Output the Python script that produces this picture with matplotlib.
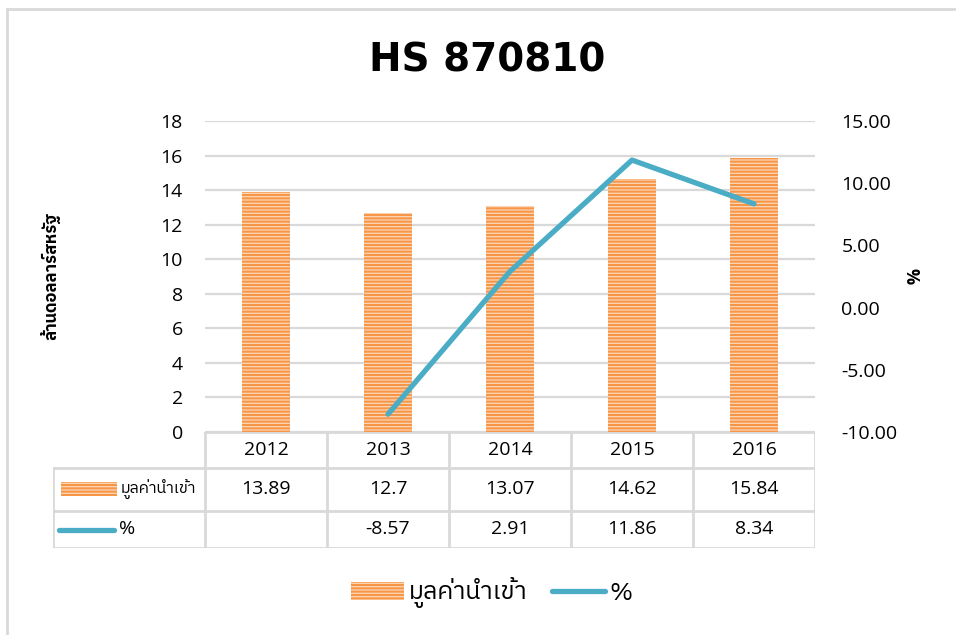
import matplotlib
matplotlib.use("Agg")
import matplotlib.pyplot as plt
import matplotlib.font_manager as fm
from matplotlib import ft2font
from matplotlib.patches import Rectangle, Patch
from matplotlib.lines import Line2D

years = ["2012", "2013", "2014", "2015", "2016"]
import_value = [13.89, 12.70, 13.07, 14.62, 15.84]
pct_change = [None, -8.57, 2.91, 11.86, 8.34]
value_labels = ["13.89", "12.7", "13.07", "14.62", "15.84"]
pct_labels = ["", "-8.57", "2.91", "11.86", "8.34"]

ORANGE = "#F79646"
PEACH = "#FBD6B8"
BLUE = "#4BACC6"
GRID = "#D9D9D9"


def find_thai_font():
    names = []
    for f in fm.fontManager.ttflist:
        try:
            if 0x0E21 in ft2font.FT2Font(f.fname).get_charmap():
                names.append(f.name)
        except Exception:
            pass
    for n in names:
        if "Thai" in n and "Looped" not in n:
            return n
    return names[0] if names else "DejaVu Sans"


thai = find_thai_font()
FAM = ["Open Sans", "DejaVu Sans"]
TFAM = [thai, "Open Sans", "DejaVu Sans"]
plt.rcParams["font.family"] = FAM
plt.rcParams["hatch.linewidth"] = 1.5
plt.rcParams["hatch.color"] = ORANGE

W, H = 956, 635
fig = plt.figure(figsize=(W / 100, H / 100), dpi=100)


def px_box(x0, y0, x1, y1):
    return [x0 / W, 1 - y1 / H, (x1 - x0) / W, (y1 - y0) / H]


# chart border (right/bottom edges run off the picture)
fig.add_artist(Line2D([7 / W, 7 / W], [0, 1 - 9 / H], transform=fig.transFigure,
                      color=GRID, lw=2))
fig.add_artist(Line2D([7 / W, 1], [1 - 9 / H, 1 - 9 / H], transform=fig.transFigure,
                      color=GRID, lw=2))

fig.text(487 / W, 1 - 61 / H, "HS 870810", ha="center", va="center",
         fontsize=28, fontweight="bold", family=["DejaVu Sans"])

PL, PT, PR, PB = 205, 121, 815, 432
ax = fig.add_axes(px_box(PL, PT, PR, PB))
x = list(range(len(years)))
ax.bar(x, import_value, width=0.4, color=PEACH, hatch="-----", edgecolor=ORANGE,
       linewidth=0, zorder=2)
ax.set_xlim(-0.5, len(years) - 0.5)
ax.set_ylim(0, 18)
ax.set_yticks(range(0, 19, 2))
ax.grid(axis="y", color=GRID, lw=1.6, zorder=0)
ax.set_xticks([])
for s in ["top", "right", "left", "bottom"]:
    ax.spines[s].set_visible(False)
ax.tick_params(axis="y", length=0, labelsize=14, pad=16)
ax.set_ylabel("ล้านดอลลาร์สหรัฐ", family=TFAM, fontsize=12, fontweight="bold",
              labelpad=72)

ax2 = ax.twinx()
xs = [i for i, v in zip(x, pct_change) if v is not None]
ys = [v for v in pct_change if v is not None]
ax2.plot(xs, ys, color=BLUE, lw=3.8, solid_capstyle="round", solid_joinstyle="round", zorder=3)
ax2.set_ylim(-10, 15)
ax2.set_yticks(range(-10, 16, 5))
ax2.set_yticklabels([f"{v:.2f}" for v in range(-10, 16, 5)])
for s in ["top", "right", "left", "bottom"]:
    ax2.spines[s].set_visible(False)
ax2.tick_params(axis="y", length=0, labelsize=14, pad=19)
ax2.set_ylabel("%", fontsize=13, fontweight="bold", rotation=270, labelpad=16)

# data table below the plot
TL, TB = 53, 548
rows = [432, 468, 511, 548]
tab = fig.add_axes(px_box(TL, rows[0], PR, TB))
unit = (PR - PL) / len(years)
x_left = -0.5 - (PL - TL) / unit
tab.set_xlim(x_left, len(years) - 0.5)
tab.set_ylim(rows[-1], rows[0])
tab.axis("off")
lk = dict(color=GRID, lw=2, solid_capstyle="projecting")
tab.plot([-0.5, len(years) - 0.5], [rows[0], rows[0]], **lk)
for r in rows[1:]:
    tab.plot([x_left, len(years) - 0.5], [r, r], **lk)
for i in range(len(years) + 1):
    tab.plot([i - 0.5, i - 0.5], [rows[0], rows[-1]], **lk)
tab.plot([x_left, x_left], [rows[1], rows[-1]], **lk)

for i, yr in enumerate(years):
    tab.text(i, (rows[0] + rows[1]) / 2, yr, ha="center", va="center", fontsize=14)
    tab.text(i, (rows[1] + rows[2]) / 2, value_labels[i], ha="center", va="center", fontsize=14)
    tab.text(i, (rows[2] + rows[3]) / 2, pct_labels[i], ha="center", va="center", fontsize=14)

u = 1 / unit
tab.add_patch(Rectangle((x_left + 8 * u, 482), 56 * u, 14, facecolor=PEACH,
                        hatch="-----", edgecolor=ORANGE, lw=0))
tab.text(x_left + 68 * u, (rows[1] + rows[2]) / 2, "มูลค่านำเข้า", ha="left", va="center",
         fontsize=11.5, family=TFAM)
tab.plot([x_left + 6 * u, x_left + 61 * u], [530, 530], color=BLUE, lw=3.8,
         solid_capstyle="round")
tab.text(x_left + 66 * u, (rows[2] + rows[3]) / 2, "%", ha="left", va="center", fontsize=14)

handles = [Patch(facecolor=PEACH, hatch="-----", edgecolor=ORANGE, lw=0),
           Line2D([0], [0], color=BLUE, lw=3.8, solid_capstyle="round")]
fig.legend(handles, ["มูลค่านำเข้า", "%"], loc="center", ncol=2,
           bbox_to_anchor=(492 / W, 1 - 593 / H), frameon=False,
           prop=fm.FontProperties(family=TFAM, size=18), handlelength=2.1,
           handleheight=0.7, columnspacing=1.0, handletextpad=0.2)

fig.savefig("out.png", dpi=100)
